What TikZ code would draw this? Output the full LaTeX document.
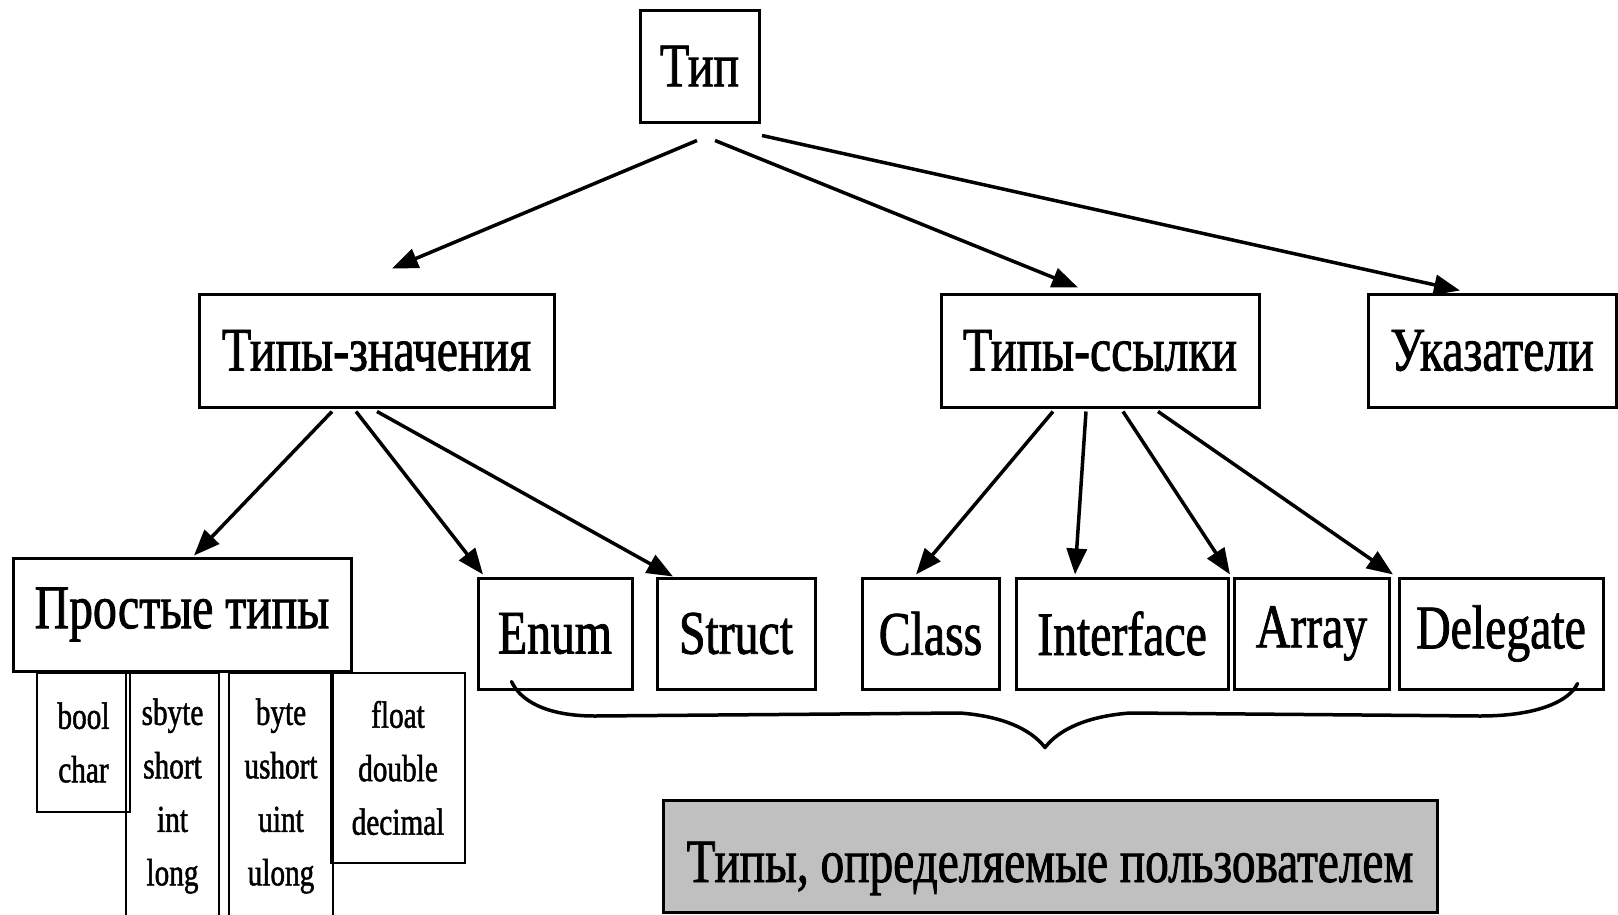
\documentclass[tikz,border=0pt]{standalone}
\usepackage{fontspec}
\setmainfont{Liberation Serif}[FakeStretch=0.77,FakeBold=1.3]
\usetikzlibrary{arrows.meta,calc}
\begin{document}
\begin{tikzpicture}[x=1pt,y=-1pt,
  box/.style={draw,line width=3pt,minimum height=113pt,inner sep=0pt,
    font=\fontsize{62}{70}\selectfont},
  leaf/.style={box,minimum height=111pt},
  smallbox/.style={draw,line width=2.5pt,inner sep=0pt,align=center,
    font=\fontsize{38}{53.5}\selectfont},
  arr/.style={line width=3.5pt,-{Triangle[length=26pt,width=20pt]}},
  brace/.style={line width=3.5pt,line cap=round,line join=round},
]
\useasboundingbox (0,0) rectangle (1618,914);
\clip (0,0) rectangle (1618,914);

% root and first level
\node[box,minimum width=119pt,minimum height=112pt] (tip) at (699.5,66) {Тип};
\node[box,minimum width=355pt] (val) at (376.5,350.5) {Типы-значения};
\node[box,minimum width=318pt] (ref) at (1100,350.5) {Типы-ссылки};
\node[box,minimum width=248pt] (ptr) at (1492,350.5) {Указатели};

% value types
\node[box,minimum width=338pt] (simple) at (182,614.5) {Простые типы};
\node[leaf,minimum width=154pt] (enum) at (555,633.5) {Enum};
\node[leaf,minimum width=158pt] (struct) at (736,633.5) {Struct};

% reference types
\node[leaf,minimum width=137pt] (class) at (930.5,633.5) {Class};
\node[leaf,minimum width=212pt] (iface) at (1122,633.5) {Interface};
\node[leaf,minimum width=155pt] (array) at (1311.5,633.5) {Array};
\node[leaf,minimum width=204pt] (deleg) at (1501,633.5) {Delegate};

% simple types
\node[smallbox,minimum width=93pt,minimum height=139pt] (bool) at (83.5,742.5) {bool\\char};
\node[smallbox,minimum width=93pt,minimum height=246pt] (sbyte) at (172.5,796) {sbyte\\short\\int\\long};
\node[smallbox,minimum width=104pt,minimum height=246pt] (byte) at (281,796) {byte\\ushort\\uint\\ulong};
\node[smallbox,minimum width=134pt,minimum height=190pt] (float) at (398,768) {float\\double\\decimal};

% user-defined types (baseline set a little below the centre)
\node[box,minimum width=774pt,minimum height=112pt,fill={rgb,255:red,192;green,192;blue,192},
  font=\fontsize{61.5}{70}\selectfont] (user) at (1050,856)
  {\raisebox{-26pt}[0pt][0pt]{Типы, определяемые пользователем}};

% arrows
\draw[arr] ($(tip.south)+(-2.5,17)$) -- ($(val.north)+(15.5,-24)$);
\draw[arr] ($(tip.south)+(15.5,17)$) -- ($(ref.north)+(-22,-5)$);
\draw[arr] ($(tip.south)+(62.5,12)$) -- ($(ptr.north)+(-32,-2)$);

\draw[arr] ($(val.south)+(-44.5,3)$) -- ($(simple.north)+(12,-1)$);
\draw[arr] ($(val.south)+(-20.5,3)$) -- ($(enum.north)+(-72,-2)$);
\draw[arr] ($(val.south)+(0.5,3)$) -- ($(struct.north)+(-63,0)$);

\draw[arr] ($(ref.south)+(-47,3)$) -- ($(class.north)+(-14.5,-2)$);
\draw[arr] ($(ref.south)+(-14,3)$) -- ($(iface.north)+(-47,-2)$);
\draw[arr] ($(ref.south)+(23,3)$) -- ($(array.north)+(-81.5,-2)$);
\draw[arr] ($(ref.south)+(58,3)$) -- ($(deleg.north)+(-108,-2)$);

% brace under the user-defined types
\coordinate (bl) at ($(enum.south west)+(35,-9)$);
\coordinate (br) at ($(deleg.south east)+(-27,-7)$);
\coordinate (bt) at ($(user.north)+(-5,-51)$);
\draw[brace] (bl) .. controls (520,700) and (545,716) .. (595,716)
  -- (960,713) .. controls (1000,716) and (1030,728) .. (bt)
  .. controls (1060,728) and (1090,716) .. (1130,713)
  -- (1480,716) .. controls (1540,716) and (1570,700) .. (br);
\end{tikzpicture}
\end{document}
